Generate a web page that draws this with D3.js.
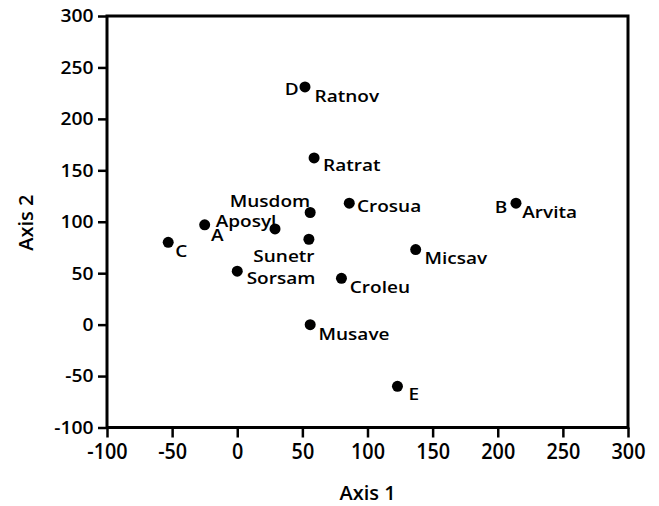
<!DOCTYPE html>
<html>
<head>
<meta charset="utf-8">
<script src="https://cdn.jsdelivr.net/npm/d3@7/dist/d3.min.js"></script>
<style>
  body { margin: 0; background: #fff; }
  text { font-family: "Open Sans", sans-serif; font-weight: 600; fill: #000; }
</style>
</head>
<body>
<div id="chart"></div>
<script>
// ordination scores, one entry per site
const axis1 = [-53, -25, 29, 56, 55, 0, 86, 80, 137, 56, 123, 214, 52, 59];
const axis2 = [80, 97, 93, 109, 83, 52, 118, 45, 73, 0, -60, 118, 231, 162];
const siteNames = ["", "", "Aposyl", "Musdom", "Sunetr", "Sorsam", "Crosua", "Croleu",
  "Micsav", "Musave", "", "Arvita", "Ratnov", "Ratrat"];
const groupLetters = ["C", "A", "", "", "", "", "", "", "", "", "E", "B", "D", ""];

const xTicks = [-100, -50, 0, 50, 100, 150, 200, 250, 300];
const yTicks = [-100, -50, 0, 50, 100, 150, 200, 250, 300];

// label placement: [dx, dy, anchor]
const nameOffsets = {
  Ratnov: [9.6, 15.4, "start"], Ratrat: [9, 13.4, "start"], Arvita: [6.3, 15, "start"],
  Micsav: [8.7, 14, "start"], Musave: [8.3, 15, "start"], Crosua: [7.7, 8.7, "start"],
  Croleu: [8.3, 14.3, "start"], Sorsam: [9.4, 13.3, "start"], Sunetr: [5.7, 22.7, "end"],
  Musdom: [0, -5.5, "end"], Aposyl: [1.4, -1.5, "end"]
};
const letterOffsets = {
  D: [-6.4, 8.4, "end"], B: [-8.7, 10, "end"], A: [6.3, 16.5, "start"],
  C: [7, 15, "start"], E: [11, 13.6, "start"]
};

const width = 659, height = 506;
const plotL = 107, plotR = 628, plotT = 16, plotB = 427.5;

const svg = d3.select("#chart").append("svg")
  .attr("width", width)
  .attr("height", height);

const x = d3.scaleLinear().domain([-100, 300]).range([plotL, plotR]);
const y = d3.scaleLinear().domain([-100, 300]).range([plotB, plotT]);

// frame
svg.append("rect")
  .attr("x", plotL).attr("y", plotT)
  .attr("width", plotR - plotL).attr("height", plotB - plotT)
  .attr("fill", "none").attr("stroke", "#000").attr("stroke-width", 3);

// axes
const xAxis = svg.append("g")
  .attr("transform", `translate(0,${plotB})`)
  .call(d3.axisBottom(x).tickValues(xTicks).tickFormat(d => String(d))
    .tickSize(10).tickPadding(6).tickSizeOuter(0));
const yAxis = svg.append("g")
  .attr("transform", `translate(${plotL},0)`)
  .call(d3.axisLeft(y).tickValues(yTicks).tickFormat(d => String(d))
    .tickSize(9).tickPadding(4).tickSizeOuter(0));

[xAxis, yAxis].forEach(a => {
  a.select(".domain").remove();
  a.selectAll("line").attr("stroke", "#000").attr("stroke-width", 2.5);
});
xAxis.selectAll("text")
  .style("font-size", "22px")
  .attr("transform", "scale(0.9,1)");
yAxis.selectAll("text")
  .style("font-size", "18.5px")
  .attr("transform", "scale(1.04,1)");

// axis titles
svg.append("text")
  .attr("x", (plotL + plotR) / 2).attr("y", 500)
  .attr("text-anchor", "middle")
  .style("font-size", "20px")
  .text("Axis 1");
svg.append("text")
  .attr("transform", `translate(33,${(plotT + plotB) / 2 + 1}) rotate(-90)`)
  .attr("text-anchor", "middle")
  .style("font-size", "20px")
  .text("Axis 2");

const sites = axis1.map((v, i) => ({ a1: v, a2: axis2[i], name: siteNames[i], letter: groupLetters[i] }));

// points
svg.append("g").selectAll("circle")
  .data(sites)
  .enter()
  .append("circle")
  .attr("cx", d => x(d.a1))
  .attr("cy", d => y(d.a2))
  .attr("r", 5.5)
  .attr("fill", "#000");

function addLabels(key, offsets) {
  svg.append("g").selectAll("g")
    .data(sites.filter(d => d[key]))
    .enter()
    .append("g")
    .attr("transform", d => {
      const o = offsets[d[key]];
      return `translate(${x(d.a1) + o[0]},${y(d.a2) + o[1]})`;
    })
    .append("text")
    .attr("text-anchor", d => offsets[d[key]][2])
    .attr("transform", "scale(1.12,1)")
    .style("font-size", "17px")
    .text(d => d[key]);
}
addLabels("name", nameOffsets);
addLabels("letter", letterOffsets);
</script>
</body>
</html>
